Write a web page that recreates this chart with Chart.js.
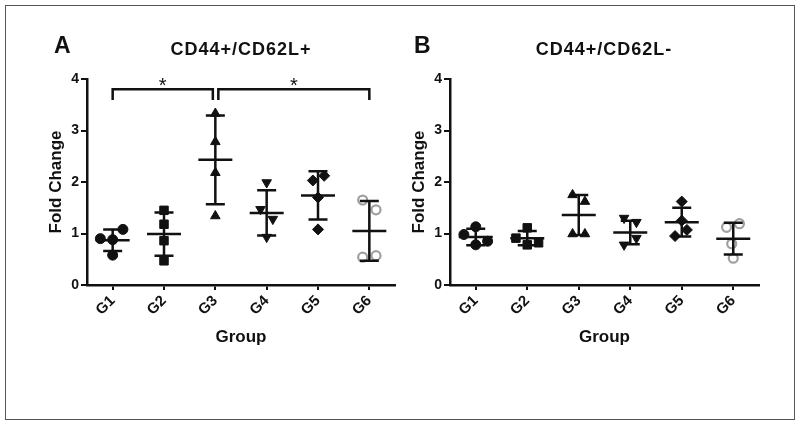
<!DOCTYPE html>
<html>
<head>
<meta charset="utf-8">
<script src="https://cdn.jsdelivr.net/npm/chart.js@4"></script>
<style>
  body { margin: 0; background: #fff; }
  #wrap { position: relative; width: 800px; height: 426px; background: #fff; font-family: "Liberation Sans", Arial, sans-serif; }
  .frame { position: absolute; left: 5px; top: 5px; width: 790px; height: 415px; box-sizing: border-box; border: 1.5px solid #555; }
  .panel { position: absolute; top: 0; height: 426px; }
  .letter { position: absolute; font-weight: bold; font-size: 23px; line-height: 1; color: #111; }
  .title { position: absolute; font-weight: bold; font-size: 18px; line-height: 1; letter-spacing: 1px; color: #111; text-align: center; width: 240px; }
</style>
</head>
<body>
<div id="wrap">
  <div class="frame"></div>
  <div class="panel" style="left:0;width:405px"><canvas id="chartA"></canvas></div>
  <div class="panel" style="left:405px;width:395px"><canvas id="chartB"></canvas></div>
  <div class="letter" style="left:54px;top:34px">A</div>
  <div class="letter" style="left:414px;top:34px">B</div>
  <div class="title" style="left:121px;top:40px">CD44+/CD62L+</div>
  <div class="title" style="left:484px;top:40px">CD44+/CD62L-</div>
</div>
<script>
// 組別
const groups = ['G1', 'G2', 'G3', 'G4', 'G5', 'G6'];

// A: CD44+/CD62L+ 各點數值
const valuesA = [
  [0.90, 0.88, 1.08, 0.58],
  [1.45, 1.18, 0.86, 0.47],
  [3.33, 2.78, 2.18, 1.34],
  [1.99, 1.47, 1.28, 0.93],
  [2.12, 2.03, 1.70, 1.08],
  [1.65, 1.46, 0.57, 0.54]
];
const jitterA = [
  [-0.24, 0, 0.2, 0],
  [0, 0, 0, 0],
  [0, 0, 0, 0],
  [0, -0.12, 0.12, 0],
  [0.12, -0.1, 0, 0],
  [-0.13, 0.13, 0.13, -0.13]
];
const meanA = [0.87, 0.99, 2.43, 1.40, 1.74, 1.05];
const sdA = [0.21, 0.42, 0.86, 0.44, 0.47, 0.58];

// 顯著性標記 (A)
const bracketFrom = [1, 3];
const bracketTo = [3, 6];
const bracketY = 3.8;
const bracketTip = 3.59;
const bracketLabel = ['*', '*'];

// B: CD44+/CD62L- 各點數值
const valuesB = [
  [0.98, 1.13, 0.78, 0.85],
  [0.91, 1.11, 0.78, 0.82],
  [1.75, 1.62, 0.99, 0.99],
  [1.30, 1.22, 0.78, 0.91],
  [1.62, 1.25, 1.07, 0.95],
  [1.12, 1.19, 0.80, 0.52]
];
const jitterB = [
  [-0.23, 0, 0, 0.23],
  [-0.22, 0, 0, 0.22],
  [-0.12, 0.12, -0.12, 0.12],
  [-0.12, 0.12, -0.12, 0.12],
  [0, 0, 0.1, -0.13],
  [-0.13, 0.12, -0.03, 0]
];
const meanB = [0.93, 0.91, 1.36, 1.02, 1.22, 0.90];
const sdB = [0.16, 0.14, 0.39, 0.23, 0.28, 0.31];

const yTicks = [0, 1, 2, 3, 4];

const ink = '#111';
const markers = [
  { pointStyle: 'circle', radius: 5, rotation: 0, bg: ink, border: ink, bw: 1 },
  { pointStyle: 'rect', radius: 6, rotation: 0, bg: ink, border: ink, bw: 1 },
  { pointStyle: 'triangle', radius: 5.5, rotation: 0, bg: ink, border: ink, bw: 1 },
  { pointStyle: 'triangle', radius: 5.5, rotation: 180, bg: ink, border: ink, bw: 1 },
  { pointStyle: 'rectRot', radius: 5.5, rotation: 0, bg: ink, border: ink, bw: 1 },
  { pointStyle: 'circle', radius: 4.5, rotation: 0, bg: '#fff', border: '#a0a0a0', bw: 2.2 }
];

const font = 'Liberation Sans, Arial, sans-serif';

function makeDatasets(values, jitter) {
  return values.map((vals, i) => ({
    label: groups[i],
    data: vals.map((v, k) => ({ x: i + 1 + jitter[i][k], y: v })),
    pointStyle: markers[i].pointStyle,
    pointRadius: markers[i].radius,
    pointRotation: markers[i].rotation,
    pointBackgroundColor: markers[i].bg,
    pointBorderColor: markers[i].border,
    pointBorderWidth: markers[i].bw
  }));
}

// 平均值與標準差
const errorBars = {
  id: 'errorBars',
  afterDatasetsDraw(chart, args, opts) {
    const ctx = chart.ctx;
    const xs = chart.scales.x, ys = chart.scales.y;
    ctx.save();
    ctx.strokeStyle = ink;
    ctx.lineWidth = 2.5;
    opts.mean.forEach((m, i) => {
      const x = xs.getPixelForValue(i + 1);
      const ym = ys.getPixelForValue(m);
      const yHi = ys.getPixelForValue(m + opts.sd[i]);
      const yLo = ys.getPixelForValue(m - opts.sd[i]);
      ctx.beginPath();
      ctx.moveTo(x - 17, ym); ctx.lineTo(x + 17, ym);
      ctx.moveTo(x, yHi); ctx.lineTo(x, yLo);
      ctx.moveTo(x - 9.5, yHi); ctx.lineTo(x + 9.5, yHi);
      ctx.moveTo(x - 9.5, yLo); ctx.lineTo(x + 9.5, yLo);
      ctx.stroke();
    });
    ctx.restore();
  }
};

const brackets = {
  id: 'brackets',
  afterDraw(chart, args, opts) {
    if (!opts.from) return;
    const ctx = chart.ctx;
    const xs = chart.scales.x, ys = chart.scales.y;
    ctx.save();
    ctx.strokeStyle = ink;
    ctx.fillStyle = ink;
    ctx.lineWidth = 2.5;
    ctx.font = '20px ' + font;
    ctx.textAlign = 'center';
    ctx.textBaseline = 'alphabetic';
    const y = ys.getPixelForValue(opts.y);
    const yt = ys.getPixelForValue(opts.tip);
    opts.from.forEach((f, i) => {
      let x1 = xs.getPixelForValue(f);
      let x2 = xs.getPixelForValue(opts.to[i]);
      if (i > 0) x1 += 3; else x2 -= 2.5;
      ctx.beginPath();
      ctx.moveTo(x1, yt); ctx.lineTo(x1, y); ctx.lineTo(x2, y); ctx.lineTo(x2, yt);
      ctx.stroke();
      ctx.fillText(opts.label[i], (x1 + x2) / 2, y + 3);
    });
    ctx.restore();
  }
};

function makeChart(id, values, jitter, mean, sd, padding, bracketOpts) {
  new Chart(document.getElementById(id), {
    type: 'scatter',
    data: { datasets: makeDatasets(values, jitter) },
    plugins: [errorBars, brackets],
    options: {
      responsive: true,
      maintainAspectRatio: false,
      animation: false,
      layout: { padding: padding },
      plugins: {
        legend: { display: false },
        tooltip: { enabled: false },
        title: { display: false },
        errorBars: { mean: mean, sd: sd },
        brackets: bracketOpts
      },
      scales: {
        x: {
          type: 'linear',
          min: 0.5,
          max: 6.5,
          afterBuildTicks: s => { s.ticks = groups.map((g, i) => ({ value: i + 1 })); },
          afterFit: s => { s.height = 67; },
          border: { display: true, color: ink, width: 2.5 },
          grid: { drawOnChartArea: false, drawTicks: true, tickLength: 5, color: ink, lineWidth: 2 },
          ticks: {
            callback: v => groups[v - 1],
            minRotation: 45,
            maxRotation: 45,
            padding: 2,
            color: ink,
            font: { family: font, size: 15, weight: 'bold' }
          },
          title: {
            display: true,
            text: 'Group',
            color: ink,
            font: { family: font, size: 17, weight: 'bold' }
          }
        },
        y: {
          min: 0,
          max: 4,
          afterBuildTicks: s => { s.ticks = yTicks.map(v => ({ value: v })); },
          afterFit: s => { s.width = 45; },
          border: { display: true, color: ink, width: 2.5 },
          grid: { drawOnChartArea: false, drawTicks: true, tickLength: 6, color: ink, lineWidth: 2 },
          ticks: {
            padding: 2,
            color: ink,
            font: { family: font, size: 14, weight: 'bold' }
          },
          title: {
            display: true,
            text: 'Fold Change',
            color: ink,
            font: { family: font, size: 17, weight: 'bold' }
          }
        }
      }
    }
  });
}

makeChart('chartA', valuesA, jitterA, meanA, sdA,
  { left: 42, right: 10, top: 79, bottom: 74 },
  { from: bracketFrom, to: bracketTo, y: bracketY, tip: bracketTip, label: bracketLabel });
makeChart('chartB', valuesB, jitterB, meanB, sdB,
  { left: 0, right: 41, top: 79, bottom: 74 },
  {});
</script>
</body>
</html>
